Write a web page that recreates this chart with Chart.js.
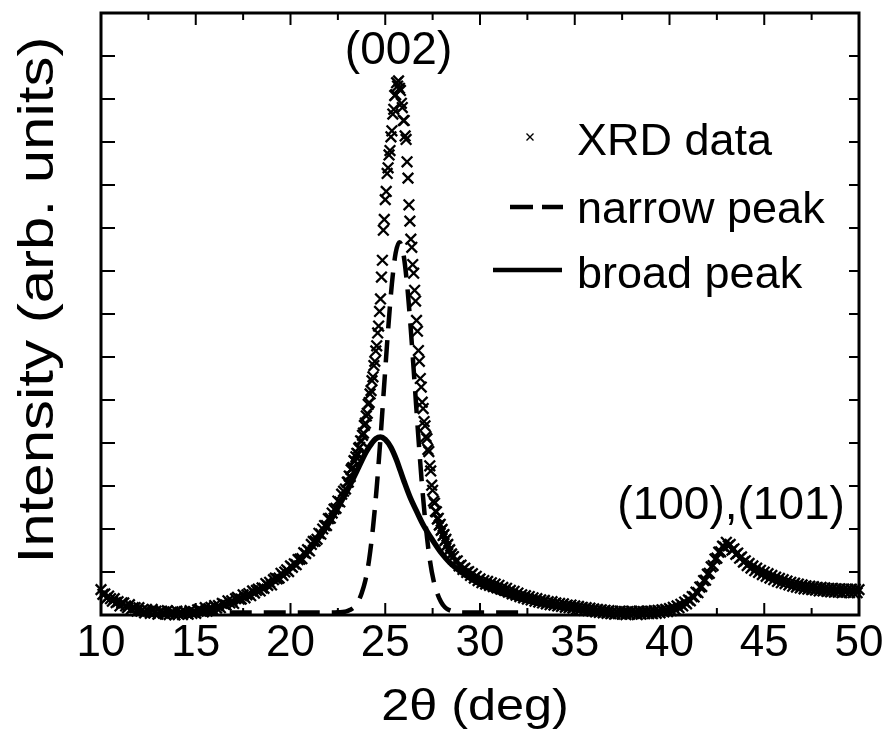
<!DOCTYPE html>
<html>
<head>
<meta charset="utf-8">
<title>XRD pattern</title>
<script src="https://cdn.jsdelivr.net/npm/chart.js@4/dist/chart.umd.min.js"></script>
<style>
  html, body { margin: 0; padding: 0; background: #fff; }
  #wrap { width: 890px; height: 740px; }
</style>
</head>
<body>
<div id="wrap"><canvas id="c" width="890" height="740"></canvas></div>
<script>
// Measured diffraction intensity, sampled on three regular 2θ grids
const lowAngleStart = 10.0, lowAngleStep = 0.1;
const xrdLowAngle = [
  0.59,0.48,0.49,0.39,0.44,0.38,0.32,0.38,0.29,0.31,
  0.21,0.28,0.28,0.21,0.17,0.24,0.14,0.17,0.17,0.09,
  0.17,0.09,0.12,0.05,0.13,0.09,0.04,0.13,0.05,0.09,
  0.02,0.08,0.09,0.04,0.02,0.10,0.01,0.06,0.07,0.00,
  0.09,0.02,0.06,0.01,0.08,0.05,0.02,0.10,0.04,0.07,
  0.04,0.12,0.13,0.09,0.07,0.17,0.09,0.15,0.18,0.12,
  0.22,0.16,0.22,0.17,0.27,0.25,0.23,0.33,0.28,0.33,
  0.27,0.38,0.41,0.37,0.37,0.47,0.40,0.47,0.50,0.45,
  0.56,0.51,0.57,0.60,0.56,0.63,0.62,0.73,0.69,0.76,
  0.70,0.82,0.86,0.84,0.86,0.97,0.92,1.00,1.05,1.01,
  1.14,1.11,1.19,1.17,1.29,1.30,1.31,1.45,1.43,1.52,
  1.49,1.64,1.71,1.72,1.76,1.90,1.88,2.00,2.08,2.08,
  2.24,2.25,2.37,2.46,2.48,2.65,2.63,2.81,2.88,2.93
];
const mainPeakStart = 23.0, mainPeakStep = 0.05;
const xrdMainPeak = [
  3.09,3.09,3.23,3.22,3.38,3.41,3.43,3.59,3.57,3.68,
  3.76,3.75,3.88,3.90,4.05,4.04,4.18,4.23,4.41,4.46,
  4.63,4.69,4.90,4.94,5.14,5.22,5.45,5.54,5.80,5.90,
  6.14,6.26,6.56,6.72,7.06,7.35,7.86,8.25,8.95,9.20,
  9.66,9.85,10.27,10.40,10.70,10.80,11.12,11.26,11.65,11.76,
  12.08,12.10,12.38,12.30,12.42,12.25,12.20,11.90,11.80,11.50,
  11.50,11.14,11.06,10.54,10.16,9.54,9.16,8.74,8.55,8.15,
  7.95,7.55,7.30,6.85,6.60,6.15,5.90,5.50,5.30,4.95,
  4.80,4.50,4.40,4.15,4.10,3.85,3.80,3.47,3.35,3.02,
  2.90,2.65,2.60,2.41,2.40,2.23,2.25,2.09,2.11,1.97,
  1.99,1.85,1.87,1.73,1.76,1.62,1.64,1.50,1.52,1.39,
  1.42
];
const highAngleStart = 28.6, highAngleStep = 0.1;
const xrdHighAngle = [
  1.36,1.25,1.26,1.14,1.16,1.06,1.09,0.99,1.01,0.92,
  0.96,0.86,0.90,0.80,0.84,0.75,0.80,0.72,0.78,0.69,
  0.75,0.66,0.72,0.63,0.69,0.60,0.64,0.57,0.62,0.53,
  0.57,0.49,0.55,0.46,0.51,0.43,0.47,0.40,0.45,0.37,
  0.43,0.35,0.40,0.32,0.38,0.30,0.35,0.28,0.34,0.26,
  0.31,0.24,0.31,0.23,0.28,0.21,0.27,0.20,0.26,0.18,
  0.23,0.17,0.23,0.16,0.21,0.14,0.20,0.13,0.18,0.11,
  0.17,0.10,0.16,0.09,0.14,0.07,0.13,0.06,0.12,0.05,
  0.11,0.04,0.10,0.03,0.09,0.02,0.08,0.03,0.09,0.02,
  0.08,0.01,0.08,0.02,0.09,0.03,0.07,0.01,0.09,0.02,
  0.08,0.03,0.09,0.03,0.09,0.03,0.10,0.04,0.11,0.05,
  0.12,0.07,0.13,0.08,0.15,0.10,0.18,0.13,0.21,0.17,
  0.25,0.21,0.30,0.26,0.35,0.33,0.43,0.42,0.53,0.52,
  0.65,0.66,0.80,0.81,0.95,0.97,1.12,1.15,1.30,1.32,
  1.46,1.47,1.60,1.58,1.69,1.61,1.64,1.51,1.54,1.41,
  1.44,1.32,1.35,1.23,1.26,1.15,1.20,1.09,1.14,1.03,
  1.09,0.99,1.04,0.94,1.00,0.90,0.96,0.86,0.92,0.82,
  0.88,0.78,0.85,0.75,0.82,0.73,0.79,0.70,0.76,0.67,
  0.74,0.65,0.72,0.63,0.70,0.61,0.68,0.60,0.67,0.59,
  0.66,0.58,0.64,0.56,0.64,0.56,0.63,0.55,0.62,0.54,
  0.62,0.53,0.61,0.53,0.61,0.52,0.60,0.53,0.60,0.52,
  0.60,0.52,0.60,0.52,0.59
];

// Fitted components of the (002) reflection
const narrowX = [15, 22.35, 22.55, 22.75, 22.95, 23.15, 23.35, 23.55, 23.75, 23.95, 24.15, 24.35, 24.55, 24.75, 24.95, 25.15, 25.35, 25.55, 25.75,
                 25.95, 26.15, 26.35, 26.55, 26.75, 26.95, 27.15, 27.35, 27.55, 27.75, 27.95, 28.15, 28.35, 28.55, 28.75, 29.15, 32.3];
const narrowY = [0.06, 0.06, 0.065, 0.07, 0.085, 0.12, 0.18, 0.30, 0.50, 0.80, 1.29, 2.02, 2.97, 4.12, 5.39, 6.63, 7.70, 8.42, 8.67,
                 8.42, 7.70, 6.63, 5.39, 4.12, 2.97, 2.02, 1.29, 0.80, 0.50, 0.30, 0.18, 0.12, 0.085, 0.07, 0.06, 0.06];
const broadX = [13, 14, 15, 16, 17, 18, 19, 20, 20.5, 21, 21.5, 22, 22.5, 23, 23.5, 24, 24.3, 24.5, 24.75, 25, 25.3, 25.6, 25.8,
                26, 26.3, 26.7, 27, 27.5, 28, 28.4, 29, 30, 31, 32, 33, 34, 35, 36, 37];
const broadY = [0.02, 0.05, 0.09, 0.17, 0.30, 0.50, 0.74, 1.08, 1.28, 1.52, 1.80, 2.12, 2.50, 2.90, 3.35, 3.80, 4.00, 4.10, 4.14, 4.08, 3.90, 3.60, 3.35,
                3.10, 2.75, 2.37, 2.10, 1.74, 1.42, 1.22, 1.00, 0.72, 0.53, 0.39, 0.28, 0.20, 0.14, 0.09, 0.06];

// Reflection labels placed at (2θ, intensity)
const peakLabels = ['(002)', '(100),(101)'];
const peakLabelX = [25.7, 43.25];
const peakLabelY = [13.12, 2.52];

const seriesNames = ['XRD data', 'narrow peak', 'broad peak'];
const xTitle = '2θ (deg)';
const yTitle = 'Intensity (arb. units)';

const FONT = "'Liberation Sans', Arial, Helvetica, sans-serif";

function gridPoints(start, step, values) {
  return values.map((v, i) => ({ x: +(start + i * step).toFixed(2), y: v }));
}
const xrdPoints = [
  ...gridPoints(lowAngleStart, lowAngleStep, xrdLowAngle),
  ...gridPoints(mainPeakStart, mainPeakStep, xrdMainPeak),
  ...gridPoints(highAngleStart, highAngleStep, xrdHighAngle)
];
const narrowPoints = narrowX.map((x, i) => ({ x, y: narrowY[i] }));
const broadPoints = broadX.map((x, i) => ({ x, y: broadY[i] }));

// text drawn slightly widened along its run, like the face used for the titles
function wideText(ctx, txt, x, y, rot, stretch) {
  ctx.save();
  ctx.translate(x, y);
  if (rot) ctx.rotate(rot);
  ctx.scale(stretch, 1);
  ctx.fillText(txt, 0, 0);
  ctx.restore();
}

// Frame with inward ticks, axis titles, peak labels and the in-plot key
const framePlugin = {
  id: 'frameAndKey',
  afterDatasetsDraw(chart) {
    const { ctx, chartArea: a, scales: { x, y } } = chart;
    ctx.save();
    ctx.strokeStyle = '#000';
    ctx.fillStyle = '#000';
    ctx.lineCap = 'butt';

    ctx.lineWidth = 2;
    x.ticks.forEach(t => {
      const px = x.getPixelForValue(t.value);
      const len = t.value % 5 === 0 ? 12 : 7;
      ctx.beginPath();
      ctx.moveTo(px, a.bottom); ctx.lineTo(px, a.bottom - len);
      ctx.moveTo(px, a.top); ctx.lineTo(px, a.top + len);
      ctx.stroke();
    });
    y.ticks.forEach(t => {
      const py = y.getPixelForValue(t.value);
      ctx.beginPath();
      ctx.moveTo(a.left, py); ctx.lineTo(a.left + 14, py);
      ctx.moveTo(a.right, py); ctx.lineTo(a.right - 10, py);
      ctx.stroke();
    });

    ctx.lineWidth = 3;
    ctx.strokeRect(a.left, a.top, a.right - a.left, a.bottom - a.top);

    // axis titles
    ctx.textAlign = 'center';
    ctx.textBaseline = 'alphabetic';
    ctx.font = '45px ' + FONT;
    wideText(ctx, xTitle, (a.left + a.right) / 2 - 5, 720, 0, 1.12);
    ctx.font = '50px ' + FONT;
    wideText(ctx, yTitle, 53, 300, -Math.PI / 2, 1.2);

    // reflection labels
    ctx.font = '46px ' + FONT;
    ctx.textAlign = 'center';
    ctx.textBaseline = 'middle';
    peakLabels.forEach((txt, i) => {
      ctx.fillText(txt, x.getPixelForValue(peakLabelX[i]), y.getPixelForValue(peakLabelY[i]));
    });

    // key
    ctx.font = '45px ' + FONT;
    ctx.textAlign = 'left';
    ctx.textBaseline = 'alphabetic';
    const textLeft = 577;
    const baselines = [155, 223, 288];
    seriesNames.forEach((name, i) => ctx.fillText(name, textLeft, baselines[i]));

    // × symbol
    ctx.lineWidth = 1.4;
    ctx.beginPath();
    ctx.moveTo(526.5, 133.5); ctx.lineTo(533.5, 140.5);
    ctx.moveTo(533.5, 133.5); ctx.lineTo(526.5, 140.5);
    ctx.stroke();
    // dashed sample
    ctx.lineWidth = 4.5;
    ctx.beginPath();
    ctx.moveTo(510, 207); ctx.lineTo(533, 207);
    ctx.moveTo(542, 207); ctx.lineTo(563, 207);
    ctx.stroke();
    // solid sample
    ctx.lineWidth = 4.5;
    ctx.beginPath();
    ctx.moveTo(493, 270); ctx.lineTo(562, 270);
    ctx.stroke();

    ctx.restore();
  }
};

new Chart(document.getElementById('c'), {
  type: 'scatter',
  data: {
    datasets: [
      {
        label: seriesNames[1],
        data: narrowPoints,
        showLine: true,
        borderColor: '#000',
        borderWidth: 4.5,
        borderDash: [22, 12],
        pointRadius: 0,
        fill: false,
        cubicInterpolationMode: 'monotone',
        order: 1
      },
      {
        label: seriesNames[2],
        data: broadPoints,
        showLine: true,
        borderColor: '#000',
        borderWidth: 5.5,
        pointRadius: 0,
        fill: false,
        cubicInterpolationMode: 'monotone',
        order: 1
      },
      {
        label: seriesNames[0],
        data: xrdPoints,
        showLine: false,
        pointStyle: 'crossRot',
        pointRadius: 7.5,
        borderColor: '#000',
        backgroundColor: '#000',
        borderWidth: 2.3,
        clip: false,
        order: 2
      }
    ]
  },
  options: {
    responsive: false,
    animation: false,
    events: [],
    layout: { padding: { left: 0, right: 31, top: 13, bottom: 0 } },
    plugins: { legend: { display: false }, tooltip: { enabled: false } },
    scales: {
      x: {
        type: 'linear',
        min: 10,
        max: 50,
        grid: { display: false, drawTicks: false },
        border: { display: false },
        ticks: {
          stepSize: 2.5,
          autoSkip: false,
          maxRotation: 0,
          padding: 2,
          color: '#000',
          font: { family: FONT, size: 44 },
          callback: v => (v % 5 === 0 ? String(v) : '')
        },
        afterFit: s => { s.height = 125; }
      },
      y: {
        type: 'linear',
        min: 0,
        max: 14,
        grid: { display: false, drawTicks: false },
        border: { display: false },
        ticks: { stepSize: 1, display: false },
        afterFit: s => { s.width = 101; }
      }
    }
  },
  plugins: [framePlugin]
});
</script>
</body>
</html>
